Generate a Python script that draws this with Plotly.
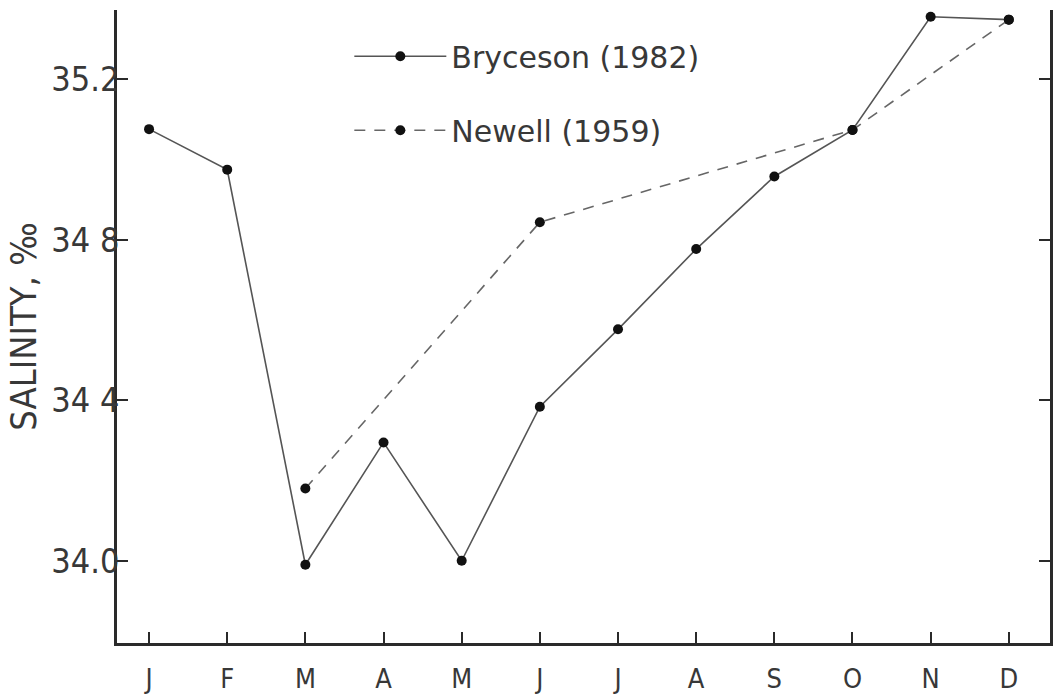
import plotly.graph_objects as go

months = ["J", "F", "M", "A", "M", "J", "J", "A", "S", "O", "N", "D"]
month_idx = list(range(12))

bryceson = [35.076, 34.975, 33.99, 34.295, 34.0, 34.384, 34.577, 34.777, 34.958, 35.074, 35.356, 35.349]
newell = [None, None, 34.18, None, None, 34.844, None, None, None, 35.074, None, 35.349]

y_ticks = [34.0, 34.4, 34.8, 35.2]
y_tick_text = ["34.0", "34 4", "34 8", "35.2"]
y_range = [33.795, 35.373]
x_range = [-0.41, 11.527]

FONT = "DejaVu Sans Condensed, sans-serif"
INK = "#2a2a2a"
TXT = "#383838"

fig = go.Figure()
fig.add_trace(go.Scatter(
    x=month_idx, y=bryceson, mode="lines+markers", name="Bryceson (1982)",
    line=dict(color="#555555", width=1.6),
    marker=dict(color="#111111", size=10),
    legendgroup="a",
))
fig.add_trace(go.Scatter(
    x=month_idx, y=newell, mode="lines+markers", name="Newell (1959)",
    connectgaps=True,
    line=dict(color="#666666", width=1.6, dash="11px,9px"),
    marker=dict(color="#111111", size=10),
    legendgroup="b",
))

fig.update_layout(
    width=1055, height=696,
    margin=dict(l=117, r=2, t=10, b=48),
    paper_bgcolor="white", plot_bgcolor="white",
    font=dict(family=FONT, color=INK, size=24),
    showlegend=True,
    legend=dict(
        x=0.249, y=0.968, xanchor="left", yanchor="top",
        bgcolor="rgba(0,0,0,0)", itemwidth=92,
        font=dict(size=30, family="DejaVu Sans, sans-serif", color=TXT),
        traceorder="grouped", tracegroupgap=32,
    ),
    xaxis=dict(
        range=x_range, tickmode="array", tickvals=month_idx, ticktext=months,
        showgrid=False, zeroline=False, showline=True, linecolor=INK, linewidth=2.5,
        ticks="inside", ticklen=11, tickwidth=2, tickcolor=INK,
        tickfont=dict(size=27, family=FONT, color=TXT),
        ticklabelstandoff=10,
    ),
    yaxis=dict(
        range=y_range, tickmode="array",
        tickvals=y_ticks + [y_range[1]], ticktext=y_tick_text + [""],
        showgrid=False, zeroline=False, showline=True, linecolor=INK, linewidth=2.5,
        mirror="ticks",
        ticks="inside", ticklen=11, tickwidth=2, tickcolor=INK,
        tickfont=dict(size=34, family=FONT, color=TXT),
        ticklabelstandoff=-12,
        title=dict(text="SALINITY, ‰", font=dict(size=36, family=FONT, color=TXT), standoff=4),
    ),
)

fig.write_html("out.html")
